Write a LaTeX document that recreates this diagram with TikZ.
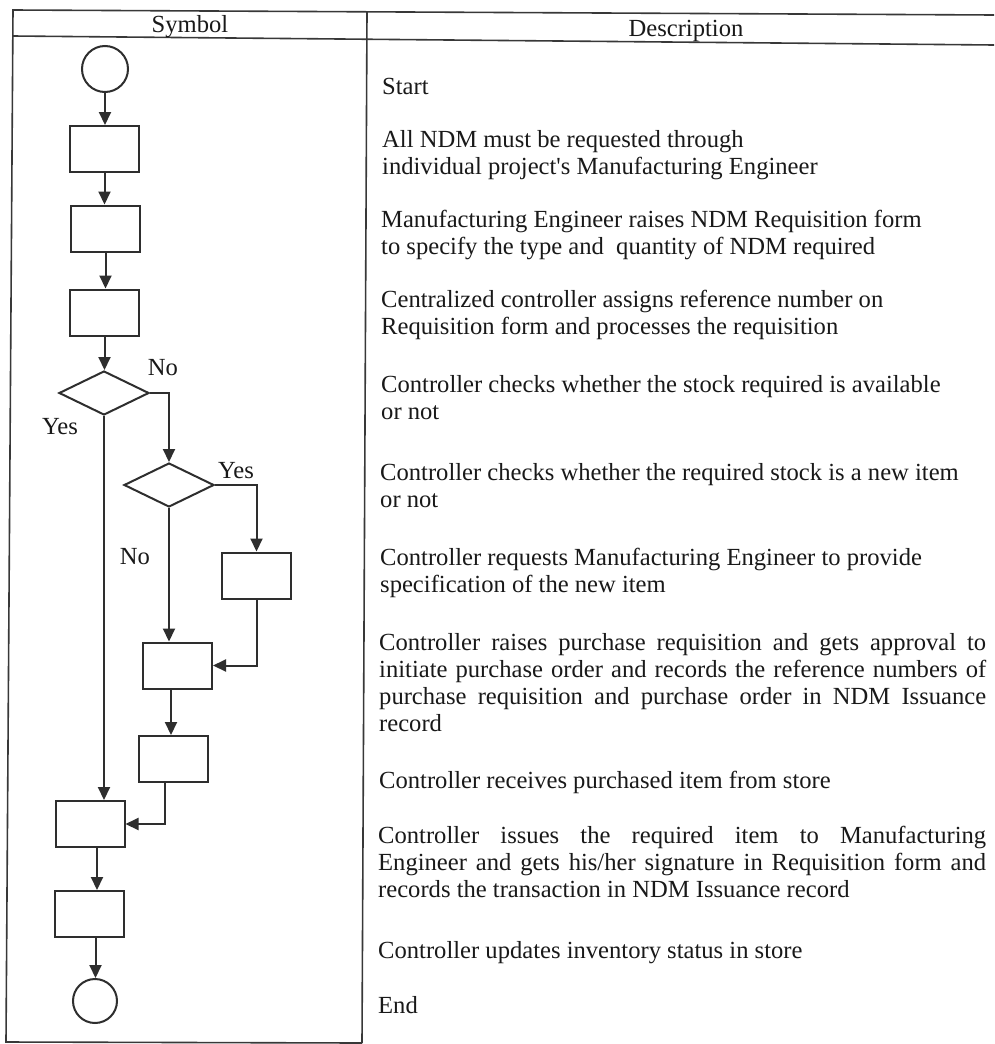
\documentclass[tikz,border=0pt]{standalone}
\usepackage{fontspec}
\setmainfont{Liberation Serif}[Ligatures=TeXOff]
\usetikzlibrary{shapes.geometric,arrows.meta,calc}
\begin{document}
\begin{tikzpicture}[x=1pt,y=-1pt,
  shp/.style={draw=black!82, line width=2pt, fill=white},
  circ/.style={shp, circle, minimum size=46pt, inner sep=0pt},
  boxn/.style={shp, rectangle, minimum width=69pt, minimum height=46pt, inner sep=0pt},
  dia/.style={shp, diamond, minimum width=90pt, minimum height=44pt, inner sep=0pt},
  conn/.style={draw=black!82, line width=2pt, -{Triangle[length=13pt,width=12pt]}},
  rulel/.style={draw=black!78, line width=1.6pt},
  lbl/.style={inner sep=0pt, font=\fontsize{24.6}{27}\selectfont, text=black!90},
  txt/.style={lbl, anchor=base west}]
\useasboundingbox (0,0) rectangle (994,1044);
\fill[white] (0,0) rectangle (994,1044);

% table rules
\coordinate (tl) at (13,10);
\coordinate (tr) at (994,15);
\coordinate (hl) at (12.8,36);
\coordinate (hr) at (994,45);
\coordinate (bl) at (6,1042);
\coordinate (dt) at (367,11.5);
\coordinate (db) at (362,1043);
\draw[rulel] (tr) -- (tl) -- (bl) -- (db);
\draw[rulel] (hl) -- (hr);
\draw[rulel] (dt) -- (db);

% headers
\node[lbl, anchor=base] (hsym) at (190,32) {Symbol};
\node[lbl, anchor=base] (hdesc) at (686,36) {Description};

% flowchart symbols
\node[circ] (start) at (105,69) {};
\node[boxn] (b1) at (104.5,149) {};
\node[boxn] (b2) at (105.5,228.5) {};
\node[boxn] (b3) at (104.5,312.5) {};
\node[dia] (d1) at (104,393) {};
\node[dia] (d2) at (169,485) {};
\node[boxn] (b4) at (256.5,575.5) {};
\node[boxn] (b5) at (177.5,665.5) {};
\node[boxn] (b6) at (173.5,759) {};
\node[boxn] (b7) at (90,824) {};
\node[boxn] (b8) at (89,914) {};
\node[circ, minimum size=44pt] (end) at (95,1001) {};

% connectors
\draw[conn] (start.south) -- (start.south |- b1.north);
\draw[conn] (b1.south) -- (b1.south |- b2.north);
\draw[conn] (b2.south) -- (b2.south |- b3.north);
\draw[conn] (b3.south) -- (b3.south |- d1.north);
\draw[conn] (d1.east) -| (d2.north);
\draw[conn] (d1.south) -- (d1.south |- b7.north);
\draw[conn] (d2.east) -| (b4.north);
\draw[conn] (d2.south) -- (d2.south |- b5.north);
\draw[conn] (b4.south) |- (b5.east);
\coordinate (b5s) at ($(b5.south)+(-6.5,0)$);
\draw[conn] (b5s) -- (b5s |- b6.north);
\coordinate (b6s) at ($(b6.south)+(-8.5,0)$);
\draw[conn] (b6s) |- (b7.east);
\coordinate (b7s) at ($(b7.south)+(7,0)$);
\draw[conn] (b7s) -- (b7s |- b8.north);
\coordinate (b8s) at ($(b8.south)+(6.5,0)$);
\draw[conn] (b8s) -- (b8s |- end.north);

% branch labels
\node[lbl] (lno1) at (163,368) {No};
\node[lbl] (lyes1) at (60,427) {Yes};
\node[lbl] (lyes2) at (236,471) {Yes};
\node[lbl] (lno2) at (135,557) {No};

% descriptions
\node[txt] (s1) at (382,94) {Start};
\node[txt] (s2a) at (382,147) {All NDM must be requested through};
\node[txt] (s2b) at (382,174) {individual project's Manufacturing Engineer};
\node[txt] (s3a) at (381,227) {Manufacturing Engineer raises NDM Requisition form};
\node[txt] (s3b) at (381,254) {to specify the type and\ \ quantity of NDM required};
\node[txt] (s4a) at (381,307) {Centralized controller assigns reference number on};
\node[txt] (s4b) at (381,334) {Requisition form and processes the requisition};
\node[txt] (s5a) at (381,392) {Controller checks whether the stock required is available};
\node[txt] (s5b) at (381,419) {or not};
\node[txt] (s6a) at (380,480) {Controller checks whether the required stock is a new item};
\node[txt] (s6b) at (380,507) {or not};
\node[txt] (s7a) at (380,565) {Controller requests Manufacturing Engineer to provide};
\node[txt] (s7b) at (380,592) {specification of the new item};
\node[txt] (s8a) at (379,650) {\makebox[607pt][s]{Controller raises purchase requisition and gets approval to}};
\node[txt] (s8b) at (379,677) {\makebox[607pt][s]{initiate purchase order and records the reference numbers of}};
\node[txt] (s8c) at (379,704) {\makebox[607pt][s]{purchase requisition and purchase order in NDM Issuance}};
\node[txt] (s8d) at (379,731) {record};
\node[txt] (s9) at (379,788) {Controller receives purchased item from store};
\node[txt] (s10a) at (378,843) {\makebox[608pt][s]{Controller issues the required item to Manufacturing}};
\node[txt] (s10b) at (378,870) {\makebox[608pt][s]{Engineer and gets his/her signature in Requisition form and}};
\node[txt] (s10c) at (378,897) {records the transaction in NDM Issuance record};
\node[txt] (s11) at (378,958) {Controller updates inventory status in store};
\node[txt] (s12) at (378,1013) {End};
\end{tikzpicture}
\end{document}
